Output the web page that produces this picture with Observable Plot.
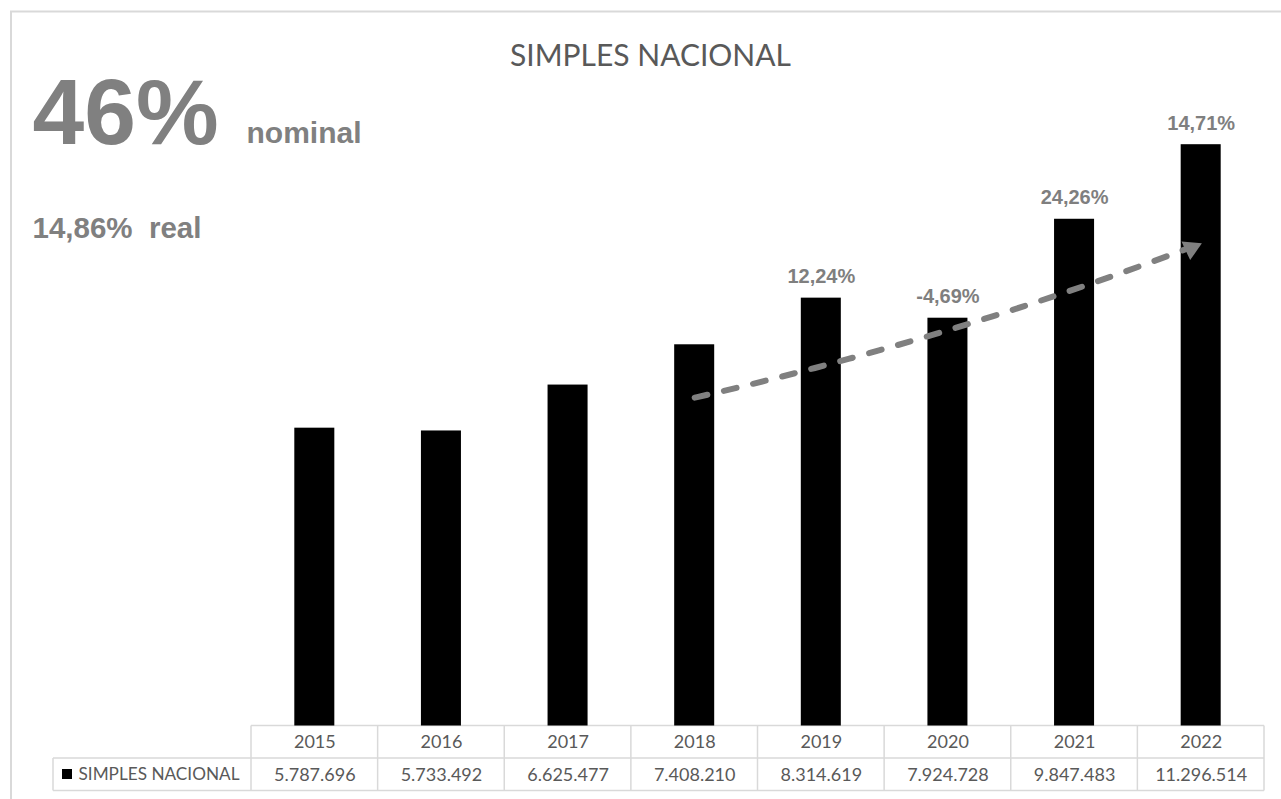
<!DOCTYPE html>
<html><head><meta charset="utf-8">
<script src="https://cdn.jsdelivr.net/npm/d3@7"></script>
<script src="https://cdn.jsdelivr.net/npm/@observablehq/plot@0.6"></script>
<style>
html,body{margin:0;padding:0;background:#fff;overflow:hidden}
</style></head><body><div id="chart"></div>
<script>
// ---- data ----
const years = ["2015","2016","2017","2018","2019","2020","2021","2022"];
const values = [5787696,5733492,6625477,7408210,8314619,7924728,9847483,11296514];
const growthLabels = ["","","","","12,24%","-4,69%","24,26%","14,71%"];
const seriesName = "SIMPLES NACIONAL";
const chartTitle = "SIMPLES NACIONAL";
const nominalValue = "46%";
const nominalLabel = "nominal";
const realLabel = "14,86%\u00a0 real";
const trendFrom = "2018", trendTo = "2022";
const trendStart = 6380000, trendEnd = 9380000;
const yMax = 12000000;

const data = years.map((year, i) => ({year, value: values[i], label: growthLabels[i]}));
const trend = [{x1: trendFrom, y1: trendStart, x2: trendTo, y2: trendEnd}];
const fmt = d3.formatLocale({decimal: ",", thousands: ".", grouping: [3], currency: ["R$", ""]}).format(",d");

const W = 1281, H = 799;
const mL = 251, mR = 17, mT = 108, mB = 73.5;
const rowH = 32.5;
const gridColor = "#d9d9d9";
const tableFont = "Lato, 'Open Sans', sans-serif";
const boldFont = "'Liberation Sans', Arial, sans-serif";

function tableGrid(...args) {
  const scales = args[1];
  const x = scales.x, y = scales.y;
  const step = x.step(), bw = x.bandwidth();
  const left = d => x(d) + bw / 2 - step / 2;
  const y0 = y(0);
  const xs = years.map(left);
  const xEnd = xs[xs.length - 1] + step;
  const legendLeft = 53;
  const g = d3.create("svg:g");
  // outer chart frame
  g.append("rect").attr("x", 11).attr("y", 11.5).attr("width", 1400).attr("height", 1000)
    .attr("fill", "none").attr("stroke", gridColor).attr("stroke-width", 2);
  const lines = g.append("g").attr("stroke", gridColor).attr("stroke-width", 1.5);
  lines.append("line").attr("x1", xs[0]).attr("x2", xEnd).attr("y1", y0).attr("y2", y0);
  lines.append("line").attr("x1", legendLeft).attr("x2", xEnd).attr("y1", y0 + rowH).attr("y2", y0 + rowH);
  lines.append("line").attr("x1", legendLeft).attr("x2", xEnd).attr("y1", y0 + 2 * rowH).attr("y2", y0 + 2 * rowH);
  for (const xv of [...xs, xEnd]) {
    lines.append("line").attr("x1", xv).attr("x2", xv).attr("y1", y0).attr("y2", y0 + 2 * rowH);
  }
  lines.append("line").attr("x1", legendLeft).attr("x2", legendLeft).attr("y1", y0 + rowH).attr("y2", y0 + 2 * rowH);
  // legend key
  g.append("rect").attr("x", 62).attr("y", y0 + rowH + 11).attr("width", 10).attr("height", 10).attr("fill", "#000");
  return g.node();
}

const chart = Plot.plot({
  width: W, height: H,
  marginLeft: mL, marginRight: mR, marginTop: mT, marginBottom: mB,
  style: {background: "#fff", overflow: "visible"},
  x: {domain: years, paddingInner: 0.684, paddingOuter: 0.342, round: false, axis: null},
  y: {domain: [0, yMax], axis: null},
  marks: [
    tableGrid,
    Plot.barY(data, {x: "year", y: "value", fill: "#000"}),
    Plot.text(data, {x: "year", y: "value", text: "label", dy: -15, lineAnchor: "bottom",
      fill: "#7f7f7f", fontSize: 20, fontWeight: "bold", fontFamily: boldFont}),
    Plot.arrow(trend, {x1: "x1", y1: "y1", x2: "x2", y2: "y2", bend: -4, headLength: 0, insetEnd: 14,
      stroke: "#808080", strokeWidth: 6, strokeDasharray: "13,17", strokeLinecap: "round"}),
    Plot.dot(trend, {x: "x2", y: "y2", dx: -10, dy: 5, symbol: "triangle", r: 7.6, rotate: 65,
      fill: "#808080", stroke: "none"}),
    // table: header row and value row
    Plot.text(data, {x: "year", text: "year", frameAnchor: "bottom", dy: rowH / 2, lineAnchor: "middle",
      fill: "#595959", fontSize: 18, fontFamily: tableFont}),
    Plot.text(data, {x: "year", text: d => fmt(d.value), frameAnchor: "bottom", dy: rowH * 1.5, lineAnchor: "middle",
      fill: "#595959", fontSize: 18, fontFamily: tableFont}),
    Plot.text([seriesName], {text: d => d, frameAnchor: "bottom-left", dx: 78 - mL, dy: rowH * 1.5,
      lineAnchor: "middle", textAnchor: "start", fill: "#595959", fontSize: 17.2, fontFamily: tableFont}),
    // title & headline annotations
    Plot.text([chartTitle], {text: d => d, frameAnchor: "top-left", dx: 650 - mL, dy: 65 - mT,
      lineAnchor: "bottom", textAnchor: "middle", fill: "#595959", fontSize: 30, fontFamily: tableFont}),
    Plot.text([nominalValue], {text: d => d, frameAnchor: "top-left", dx: 32 - mL, dy: 143 - mT,
      lineAnchor: "bottom", textAnchor: "start", fill: "#808080", fontSize: 93, fontWeight: "bold", fontFamily: boldFont}),
    Plot.text([nominalLabel], {text: d => d, frameAnchor: "top-left", dx: 246 - mL, dy: 142 - mT,
      lineAnchor: "bottom", textAnchor: "start", fill: "#808080", fontSize: 30, fontWeight: "bold", fontFamily: boldFont}),
    Plot.text([realLabel], {text: d => d, frameAnchor: "top-left", dx: 32 - mL, dy: 237 - mT,
      lineAnchor: "bottom", textAnchor: "start", fill: "#808080", fontSize: 29.5, fontWeight: "bold", fontFamily: boldFont})
  ]
});
document.getElementById("chart").append(chart);
</script>
</body></html>
